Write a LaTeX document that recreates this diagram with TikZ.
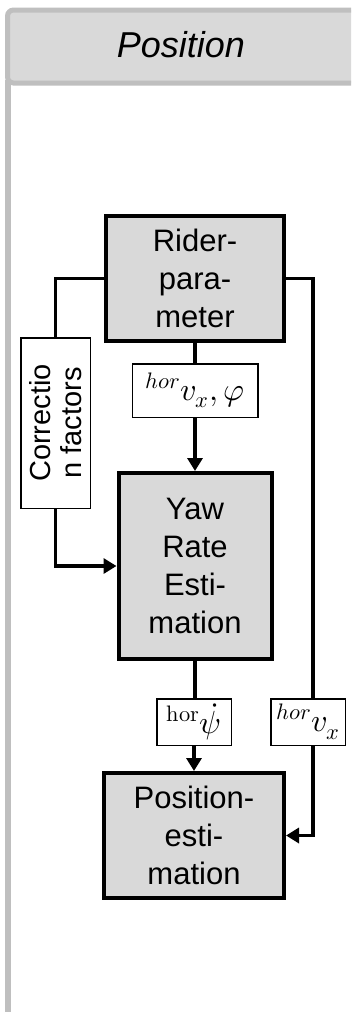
\documentclass[tikz,border=0pt]{standalone}
\usepackage{fontspec}
\usepackage{unicode-math}
\setmainfont{Liberation Sans}
\setmathfont{Latin Modern Math}
\usetikzlibrary{arrows.meta}
\definecolor{panelgray}{HTML}{D9D9D9}
\definecolor{framegray}{HTML}{BFBFBF}

\begin{document}
\begin{tikzpicture}[x=1pt,y=-1pt,
  block/.style={draw=black, line width=4pt, fill=panelgray, align=center,
    inner sep=0pt, font=\fontsize{31}{38}\selectfont, text=black},
  tag/.style={draw=black, line width=1.5pt, fill=white, inner sep=0pt,
    font=\fontsize{32}{34}\selectfont},
  flow/.style={line width=3.5pt},
  feed/.style={flow, -{Triangle[length=13pt,width=15pt]}},
]
\useasboundingbox (0,0) rectangle (351,1012);
\clip (0,0) rectangle (351,1012);

% panel frame and title bar
\draw[framegray, line width=5.5pt] (8,80) -- (8,1030);
\draw[framegray, line width=5pt, fill=panelgray, rounded corners=6pt]
  (7.5,10) rectangle (370,83);
\node[anchor=base, font=\fontsize{36}{40}\selectfont\itshape] (title)
  at (181,57.3) {Position};

% processing blocks
\node[block, minimum width=178pt, minimum height=125pt] (rider)
  at (195,278.5) {Rider-\\para-\\meter};
\node[block, minimum width=153pt, minimum height=186pt] (yaw)
  at (195,566) {Yaw\\Rate\\Esti-\\mation};
\node[block, minimum width=180pt, minimum height=125pt] (pos)
  at (194,835.5) {Position-\\esti-\\mation};

% signal tags
\node[draw=black, line width=1.5pt, fill=white, inner sep=0pt, align=center,
  rotate=90, minimum width=170.5pt, minimum height=69.5pt,
  font=\fontsize{29}{31}\selectfont] (corr) at (55.5,423) {Correctio\\n factors};
\node[tag, minimum width=125.5pt, minimum height=53.5pt] (vphi)
  at (195,390.5) {${}^{hor}v_x,\varphi$};
\node[tag, minimum width=74.5pt, minimum height=46.5pt] (psi)
  at (194,722) {${}^{\symup{hor}}\dot{\psi}$};
\node[tag, minimum width=74.5pt, minimum height=46.5pt] (vx)
  at (308,722) {${}^{hor}v_x$};
\coordinate (rx) at (313,722);

% connectors
\draw[flow] (rider.west) -| (corr.east);
\draw[feed] (corr.west) |- (yaw.west);
\draw[flow] (rider.south) -- (vphi.north);
\draw[feed] (vphi.south) -- (yaw.north);
\draw[flow] (yaw.south) -- (yaw.south |- psi.north);
\draw[feed] (psi.south) -- (pos.north);
\draw[flow] (rider.east) -| (rx |- vx.north);
\draw[feed] (rx |- vx.south) |- (pos.east);
\end{tikzpicture}
\end{document}
